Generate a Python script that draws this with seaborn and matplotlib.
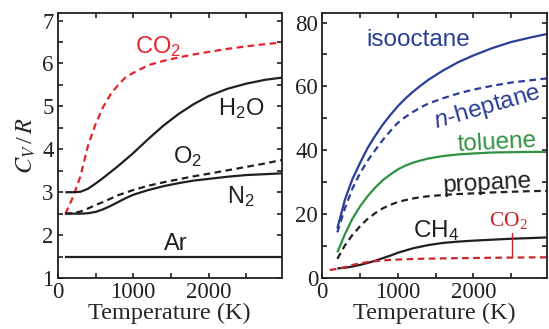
import numpy as np
import pandas as pd
import matplotlib
matplotlib.use("Agg")
import matplotlib.pyplot as plt
from matplotlib.ticker import MultipleLocator
import seaborn as sns

# ---------------- data ----------------
T_left = [100, 200, 300, 400, 500, 600, 700, 800, 900, 1000, 1200, 1400, 1600, 1800, 2000, 2250, 2500, 2750, 2970]
co2 = [2.50, 2.88, 3.37, 4.08, 4.58, 4.98, 5.28, 5.50, 5.68, 5.78, 5.96, 6.06, 6.14, 6.21, 6.27, 6.34, 6.40, 6.45, 6.49]
h2o = [3.00, 3.00, 3.01, 3.08, 3.20, 3.33, 3.47, 3.61, 3.76, 3.91, 4.24, 4.55, 4.82, 5.05, 5.24, 5.41, 5.53, 5.62, 5.67]
o2 = [2.50, 2.51, 2.55, 2.62, 2.70, 2.77, 2.85, 2.93, 2.99, 3.05, 3.15, 3.23, 3.30, 3.37, 3.43, 3.51, 3.59, 3.67, 3.75]
n2 = [2.50, 2.50, 2.50, 2.51, 2.54, 2.60, 2.68, 2.77, 2.86, 2.94, 3.05, 3.14, 3.21, 3.27, 3.31, 3.36, 3.40, 3.42, 3.44]
T_ar = [100, 2970]
ar = [1.5, 1.5]

T_right = [200, 300, 400, 500, 600, 700, 800, 900, 1000, 1100, 1200, 1300, 1400, 1600, 1800, 2000, 2250, 2500, 2750, 2970]
isooctane = [15.5, 24.5, 31.0, 36.0, 40.7, 44.5, 48.0, 51.0, 53.8, 56.2, 58.3, 60.2, 62.0, 65.0, 67.6, 69.7, 72.0, 73.9, 75.3, 76.4]
nheptane = [14.3, 21.8, 28.0, 32.8, 36.7, 40.0, 43.2, 46.0, 48.6, 50.4, 52.0, 53.4, 54.6, 56.3, 57.8, 59.0, 60.2, 61.2, 61.9, 62.5]
toluene = [8.0, 13.7, 18.6, 22.4, 25.6, 28.3, 30.6, 32.4, 34.0, 35.2, 36.1, 36.8, 37.4, 38.2, 38.7, 39.0, 39.3, 39.4, 39.5, 39.5]
propane = [6.0, 10.2, 13.5, 16.2, 18.5, 20.3, 21.8, 22.9, 23.8, 24.4, 24.9, 25.3, 25.6, 26.0, 26.3, 26.5, 26.8, 27.0, 27.2, 27.3]
ch4 = [3.0, 3.2, 3.6, 4.1, 4.7, 5.4, 6.2, 7.0, 7.9, 8.6, 9.3, 9.8, 10.3, 11.0, 11.4, 11.7, 12.0, 12.3, 12.5, 12.7]

left_ticks = [0, 1000, 2000]
right_ticks = [0, 1000, 2000]

# ---------------- style ----------------
sns.set_theme(style="ticks")
INK = "#231f20"
plt.rcParams.update({
    "font.family": ["Liberation Serif", "DejaVu Serif"],
    "mathtext.default": "regular",
    "mathtext.fontset": "custom",
    "mathtext.rm": "Liberation Sans",
    "mathtext.it": "Liberation Sans:italic",
    "axes.edgecolor": INK,
    "axes.linewidth": 1.3,
    "xtick.color": INK,
    "ytick.color": INK,
    "text.color": INK,
})

RED = "#e3232b"
RED2 = "#c8252d"
BLUE = "#2a3d97"
GREEN = "#2f9142"
LW = 1.6
SANS = ["Liberation Sans", "DejaVu Sans"]
LFS = 17
RFS = 17.5

fig = plt.figure(figsize=(5.49, 3.29), dpi=100)
axL = fig.add_axes([0.1053, 0.155, 0.4078, 0.8046])
axR = fig.add_axes([0.5869, 0.155, 0.4089, 0.8046])


def line(ax, x, y, color, dashed=False):
    sns.lineplot(x=x, y=y, ax=ax, color=color, lw=LW, legend=False)
    ln = ax.lines[-1]
    if dashed:
        ln.set_dashes([3.0, 2.0])
    ln.set_solid_capstyle("butt")


# left panel
line(axL, T_left, co2, RED, dashed=True)
line(axL, T_left, h2o, INK)
line(axL, T_left, o2, INK, dashed=True)
line(axL, T_left, n2, INK)
line(axL, T_ar, ar, INK)

axL.text(1327, 6.39, "CO$_2$", color=RED, fontsize=LFS, family=SANS, ha="center", va="center")
axL.text(2436, 4.94, "H$_2$O", color=INK, fontsize=LFS, family=SANS, ha="center", va="center")
axL.text(1718, 3.82, "O$_2$", color=INK, fontsize=LFS, family=SANS, ha="center", va="center")
axL.text(2422, 2.89, "N$_2$", color=INK, fontsize=LFS, family=SANS, ha="center", va="center")
axL.text(1563, 1.79, "Ar", color=INK, fontsize=LFS, family=SANS, ha="center", va="center")

axL.set_xlim(0, 2970)
axL.set_ylim(1, 7.17)
axL.set_xticks(left_ticks)
axL.xaxis.set_minor_locator(MultipleLocator(500))
axL.yaxis.set_major_locator(MultipleLocator(1))
axL.yaxis.set_minor_locator(MultipleLocator(0.5))
axL.set_ylabel(r"$\mathit{C_V}\,/\,\mathit{R}$", fontsize=17.5, math_fontfamily="stix", labelpad=3)

# right panel
line(axR, T_right, isooctane, BLUE)
line(axR, T_right, nheptane, BLUE, dashed=True)
line(axR, T_right, toluene, GREEN)
line(axR, T_right, propane, INK, dashed=True)
line(axR, T_right, ch4, INK)
line(axR, T_left, co2, RED2, dashed=True)

axR.text(1269, 74.5, "isooctane", color=BLUE, fontsize=RFS, family=SANS, ha="center", va="center")
axR.text(2180, 53.5, r"$\mathit{n}$-heptane", color=BLUE, fontsize=RFS, family=SANS,
         ha="center", va="center", rotation=16)
axR.text(2317, 42.2, "toluene", color=GREEN, fontsize=RFS, family=SANS, ha="center", va="center", rotation=3)
axR.text(2180, 29.6, "propane", color=INK, fontsize=RFS, family=SANS, ha="center", va="center", rotation=3)
axR.text(1510, 14.9, "CH$_4$", color=INK, fontsize=RFS, family=SANS, ha="center", va="center")
axR.text(2460, 17.9, "CO$_2$", color=RED2, fontsize=15.5, family=["Liberation Serif"],
         math_fontfamily="stix", ha="center", va="center")
axR.plot([2510, 2510], [14.0, 6.5], color=RED2, lw=1.0)

axR.set_xlim(0, 2970)
axR.set_ylim(0, 82.9)
axR.set_xticks(right_ticks)
axR.xaxis.set_minor_locator(MultipleLocator(500))
axR.yaxis.set_major_locator(MultipleLocator(20))
axR.yaxis.set_minor_locator(MultipleLocator(10))

for ax in (axL, axR):
    ax.set_xlabel("Temperature (K)", fontsize=17.5, labelpad=0)
    ax.tick_params(which="both", direction="in", top=True, right=True, length=3.5, width=1.2,
                   labelsize=16.5, pad=3)
    for s in ax.spines.values():
        s.set_visible(True)

fig.savefig("out.png", dpi=100)
